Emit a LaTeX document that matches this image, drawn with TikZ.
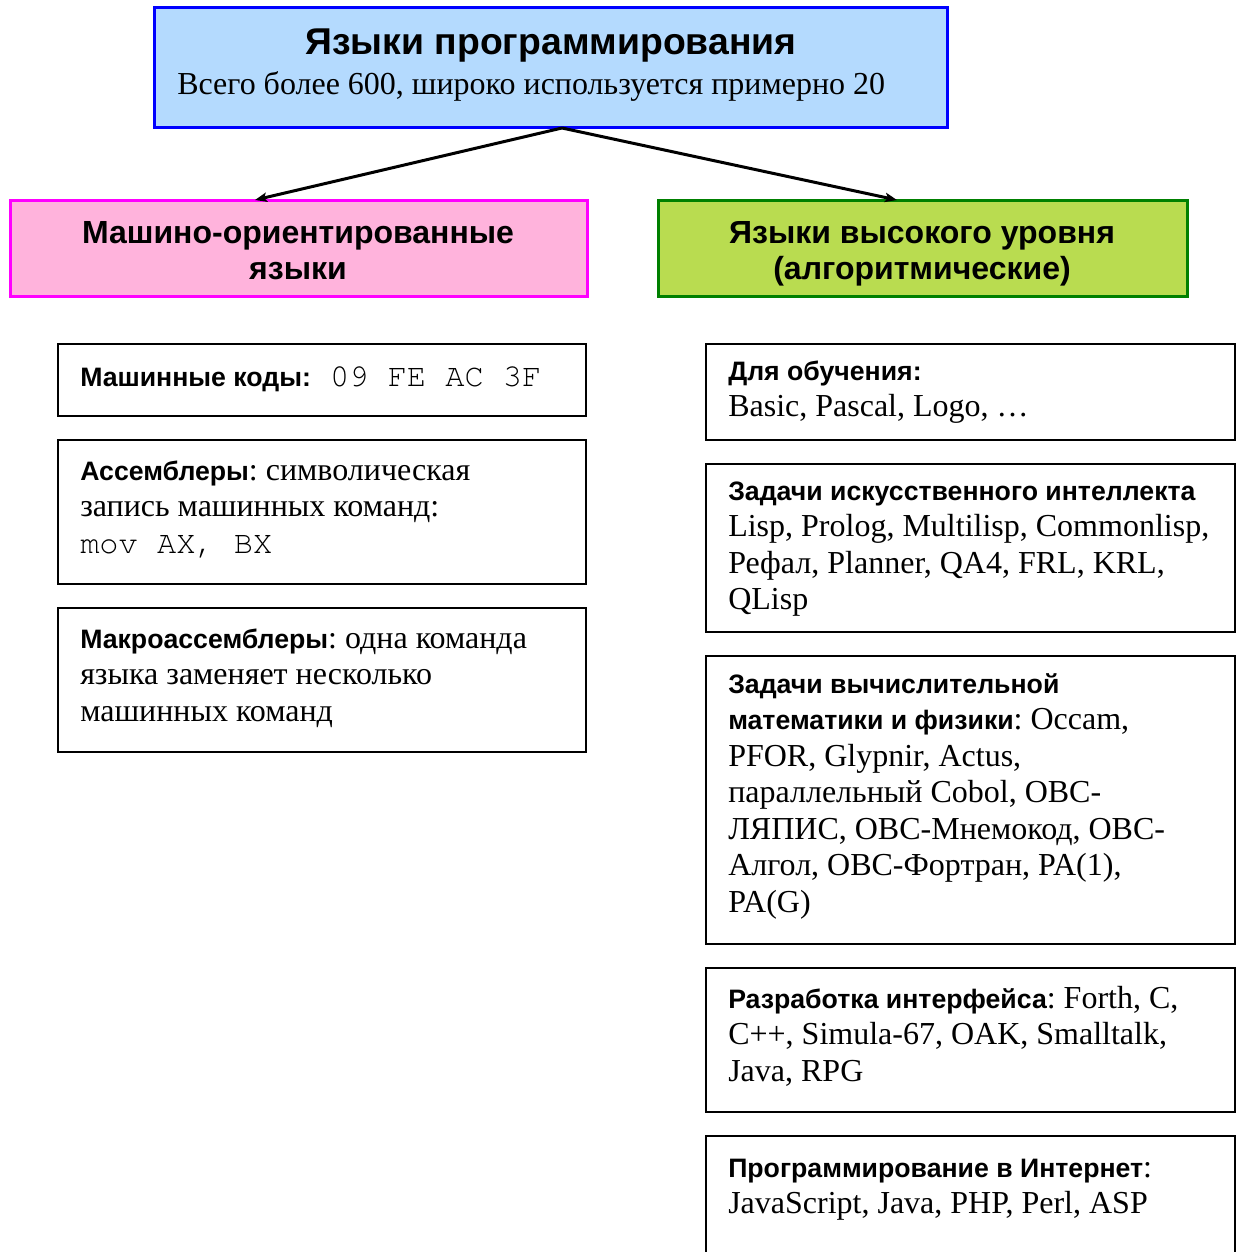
\documentclass[tikz,border=0pt]{standalone}
\usepackage{fontspec}
\setmainfont{Liberation Serif}
\setsansfont{Liberation Sans}
\setmonofont{TeX Gyre Cursor}
\usetikzlibrary{arrows.meta,calc}
\definecolor{topfill}{HTML}{B4DAFE}
\definecolor{topline}{HTML}{0000FF}
\definecolor{pinkfill}{HTML}{FFB3DC}
\definecolor{pinkline}{HTML}{FF00FF}
\definecolor{greenfill}{HTML}{B9DC50}
\definecolor{greenline}{HTML}{008000}
\newcommand{\fixsp}{\leavevmode\spaceskip=0pt\xspaceskip=0pt\frenchspacing}
\newcommand{\oneline}[1]{\mbox{\spaceskip=0pt\xspaceskip=0pt\frenchspacing #1}}
\newcommand{\hd}[1]{{\sffamily\bfseries\fontsize{20}{27.4}\selectfont #1}}
\newcommand{\mn}[1]{{\ttfamily\fontsize{24}{27.4}\selectfont #1}}
\begin{document}
\begin{tikzpicture}[x=0.75pt,y=-0.75pt,
  box/.style={draw=black,line width=1.5pt,fill=white,anchor=north west,inner sep=0pt,outer sep=0pt},
  catbox/.style={line width=2.25pt,anchor=north west,inner sep=0pt,outer sep=0pt},
  txt/.style={anchor=base west,inner sep=0pt,align=left,text width=380pt,
    font=\fontsize{24}{27.4}\selectfont},
  hdr/.style={anchor=base,inner sep=0pt,align=center,text width=390pt,
    font=\sffamily\bfseries\fontsize{24}{27}\selectfont},
  arr/.style={line width=2.25pt,-{Stealth[length=9pt,width=7pt,inset=2pt]}}]
\useasboundingbox (0,0) rectangle (1237,1252);
\clip (0,0) rectangle (1237,1252);
% top
\node[catbox,draw=topline,fill=topfill,minimum width=594.75pt,minimum height=90pt] (top) at (154,8) {};
\node[anchor=base,inner sep=0pt,font=\sffamily\bfseries\fontsize{28}{32}\selectfont] (title) at (551,55) {Языки программирования};
\node[anchor=base west,inner sep=0pt,font=\fontsize{24}{27.4}\selectfont] (sub) at (177,95) {Всего более 600, широко используется примерно 20};
% categories
\node[catbox,draw=pinkline,fill=pinkfill,minimum width=432.75pt,minimum height=72pt] (pink) at (10,200) {};
\node[hdr] (pinkt) at (298,243) {\oneline{Машино-ориентированные}\\\oneline{языки}};
\node[catbox,draw=greenline,fill=greenfill,minimum width=396.75pt,minimum height=72pt] (green) at (658,200) {};
\node[hdr] (greent) at (922,243) {\oneline{Языки высокого уровня}\\\oneline{(алгоритмические)}};
% arrows
\coordinate (ax) at (562,0);
\coordinate (lx) at (255,0);
\coordinate (rx) at (897,0);
\draw[arr] (top.south -| ax) -- (pink.north -| lx);
\draw[arr] (top.south -| ax) -- (green.north -| rx);
% left boxes
\node[box,minimum width=396pt,minimum height=54pt] (l1) at (58,344) {};
\node[txt] (l1t) at (80,386) {\fixsp\hd{Машинные коды:}\mn{\ 09 FE AC 3F}};
\node[box,minimum width=396pt,minimum height=108pt] (l2) at (58,440) {};
\node[txt] (l2t) at (80,480) {\fixsp\hd{Ассемблеры}: символическая\\запись машинных команд:\\\mn{mov AX, BX}};
\node[box,minimum width=396pt,minimum height=108pt] (l3) at (58,608) {};
\node[txt] (l3t) at (80,648) {\fixsp\hd{Макроассемблеры}: одна команда\\языка заменяет несколько\\машинных команд};
% right boxes
\node[box,minimum width=396.75pt,minimum height=72pt] (r1) at (706,344) {};
\node[txt] (r1t) at (728,380) {\fixsp\hd{Для обучения:}\\Basic, Pascal, Logo, …};
\node[box,minimum width=396.75pt,minimum height=126pt] (r2) at (706,464) {};
\node[txt] (r2t) at (728,500) {\fixsp\hd{Задачи искусственного интеллекта}\\Lisp, Prolog, Multilisp, Commonlisp,\\Рефал, Planner, QA4, FRL, KRL,\\QLisp};
\node[box,minimum width=396.75pt,minimum height=216pt] (r3) at (706,656) {};
\node[txt] (r3t) at (728,693) {\fixsp\hd{Задачи вычислительной}\\\hd{математики и физики}: Occam,\\PFOR, Glypnir, Actus,\\параллельный Cobol, OBC-\\ЛЯПИС, OBC-Мнемокод, OBC-\\Алгол, OBC-Фортран, PA(1),\\PA(G)};
\node[box,minimum width=396.75pt,minimum height=108pt] (r4) at (706,968) {};
\node[txt] (r4t) at (728,1008) {\fixsp\hd{Разработка интерфейса}: Forth, C,\\C++, Simula-67, OAK, Smalltalk,\\Java, RPG};
\node[box,minimum width=396.75pt,minimum height=110pt] (r5) at (706,1136) {};
\node[txt] (r5t) at (728,1177) {\fixsp\hd{Программирование в Интернет}:\\JavaScript, Java, PHP, Perl, ASP};
\end{tikzpicture}
\end{document}
